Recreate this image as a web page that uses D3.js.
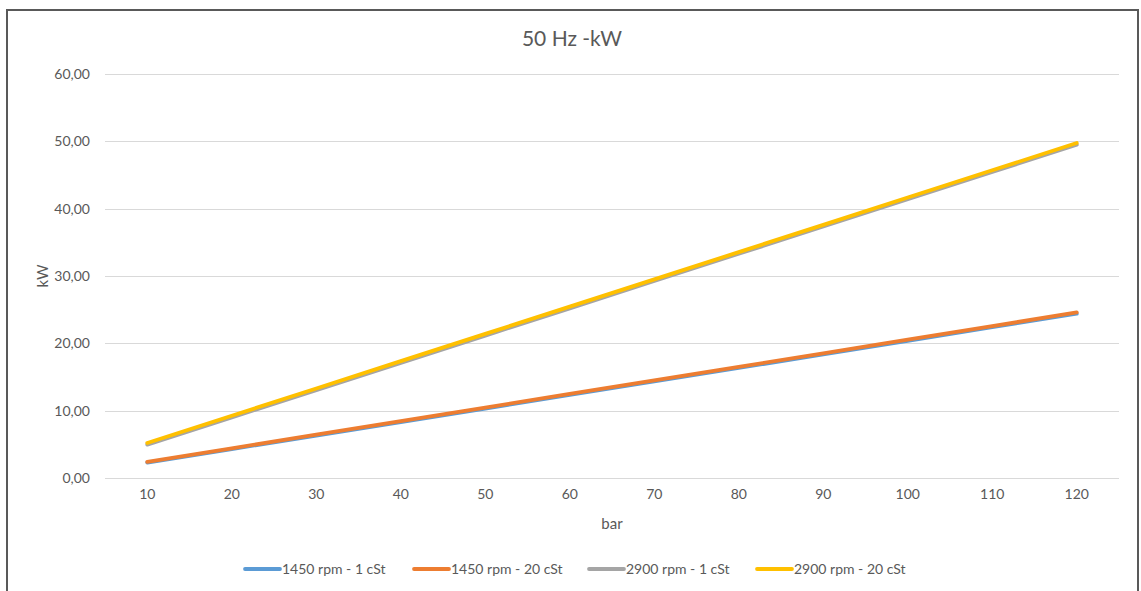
<!DOCTYPE html>
<html>
<head>
<meta charset="utf-8">
<script src="https://cdn.jsdelivr.net/npm/d3@7"></script>
<style>
body { margin: 0; background: #fff; }
text { font-family: Lato, "Open Sans", sans-serif; fill: #595959; }
</style>
</head>
<body>
<div id="mainArea"></div>
<script>
// data
var bars = [10, 20, 30, 40, 50, 60, 70, 80, 90, 100, 110, 120];
var seriesNames = ["1450 rpm - 1 cSt", "1450 rpm - 20 cSt", "2900 rpm - 1 cSt", "2900 rpm - 20 cSt"];
var seriesColors = ["#5B9BD5", "#ED7D31", "#A5A5A5", "#FFC000"];
var kw1450_1 = [2.30, 4.30, 6.30, 8.30, 10.30, 12.35, 14.35, 16.35, 18.35, 20.35, 22.40, 24.40];
var kw1450_20 = [2.40, 4.40, 6.45, 8.45, 10.45, 12.50, 14.50, 16.50, 18.50, 20.55, 22.55, 24.60];
var kw2900_1 = [4.95, 9.00, 13.05, 17.10, 21.15, 25.20, 29.25, 33.30, 37.35, 41.40, 45.45, 49.50];
var kw2900_20 = [5.20, 9.25, 13.30, 17.35, 21.40, 25.45, 29.50, 33.55, 37.60, 41.65, 45.70, 49.75];
var yTicks = [0, 10, 20, 30, 40, 50, 60];

var allSeries = [kw1450_1, kw1450_20, kw2900_1, kw2900_20];

function mainInit() {
  var width = 1141, height = 591;
  var left = 105, right = 1119, top = 74, bottom = 478;

  var vis = d3.select("#mainArea").append("svg")
    .attr("width", width)
    .attr("height", height);

  // chart border (bottom edge is off the picture)
  vis.append("rect")
    .attr("x", 7).attr("y", 10)
    .attr("width", 1131).attr("height", 600)
    .attr("fill", "#fff")
    .attr("stroke", "#595959")
    .attr("stroke-width", 2);

  var x = d3.scaleBand().domain(bars).range([left, right]);
  var y = d3.scaleLinear().domain([0, 60]).range([bottom, top]);

  // gridlines
  vis.selectAll(".grid")
    .data(yTicks)
    .enter()
    .append("line")
    .attr("x1", left).attr("x2", right)
    .attr("y1", function(d) { return Math.round(y(d)) + 0.5; })
    .attr("y2", function(d) { return Math.round(y(d)) + 0.5; })
    .style("stroke", "#D9D9D9");

  // y axis labels
  var yAxis = d3.axisLeft(y).tickValues(yTicks).tickSize(0).tickPadding(15)
    .tickFormat(function(d) { return d3.format(".2f")(d).replace(".", ","); });
  var gy = vis.append("g").attr("transform", "translate(" + left + ",0)").call(yAxis);
  gy.select(".domain").remove();
  gy.selectAll("text").style("font-size", "14px").style("fill", "#595959")
    .style("font-family", "Lato, sans-serif");

  // x axis labels
  var xAxis = d3.axisBottom(x).tickSize(0).tickPadding(11);
  var gx = vis.append("g").attr("transform", "translate(0," + bottom + ")").call(xAxis);
  gx.select(".domain").remove();
  gx.selectAll("text").style("font-size", "14px").style("fill", "#595959")
    .style("font-family", "Lato, sans-serif");

  // lines
  var line = d3.line()
    .x(function(d, i) { return x(bars[i]) + x.bandwidth() / 2; })
    .y(function(d) { return y(d); });

  vis.selectAll(".series")
    .data(allSeries)
    .enter()
    .append("path")
    .attr("d", line)
    .attr("fill", "none")
    .attr("stroke", function(d, i) { return seriesColors[i]; })
    .attr("stroke-width", 3.8)
    .attr("stroke-linecap", "round");

  // titles
  vis.append("text").attr("x", 572).attr("y", 46)
    .attr("text-anchor", "middle").style("font-size", "21px")
    .text("50 Hz -kW");
  vis.append("text").attr("x", 612).attr("y", 529)
    .attr("text-anchor", "middle").style("font-size", "15px")
    .text("bar");
  vis.append("text")
    .attr("transform", "translate(48," + (top + bottom) / 2 + ") rotate(-90)")
    .attr("text-anchor", "middle").style("font-size", "15px")
    .text("kW");

  // legend
  var legendX = [245, 414, 589, 757];
  var leg = vis.selectAll(".leg")
    .data(seriesNames)
    .enter()
    .append("g")
    .attr("transform", function(d, i) { return "translate(" + legendX[i] + ",569)"; });
  leg.append("line")
    .attr("x1", 0).attr("x2", 35)
    .attr("stroke", function(d, i) { return seriesColors[i]; })
    .attr("stroke-width", 3.8)
    .attr("stroke-linecap", "round");
  leg.append("text").attr("x", 37).attr("y", 5)
    .style("font-size", "14px")
    .text(function(d) { return d; });
}

window.onload = mainInit;
</script>
</body>
</html>
